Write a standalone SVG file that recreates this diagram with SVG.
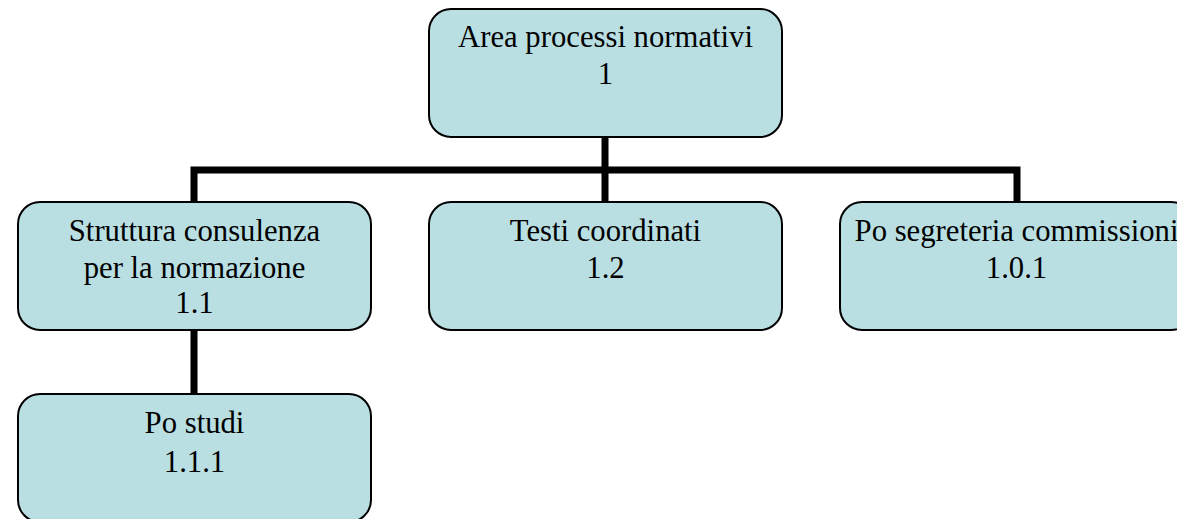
<svg xmlns="http://www.w3.org/2000/svg" width="1177" height="519" viewBox="0 0 1177 519">
<style>
.node rect{fill:#b9dfe3;stroke:#000;stroke-width:2}
.node text{font-family:"Liberation Serif","Times New Roman",serif;font-size:30.7px;fill:#000;text-anchor:middle}
.conn{fill:none;stroke:#000;stroke-width:7}
</style>
<rect width="1177" height="519" fill="#fff"/>
<g id="connectors">
<path class="conn" d="M605,137 V170 M194,170 H1017 M194,166.5 V202 M1017,166.5 V202 M605,170 V202 M194,330 V394"/>
</g>
<g id="n1" class="node">
<rect x="429" y="9" width="353" height="128" rx="22"/>
<text x="605.5" y="47">Area processi normativi</text>
<text x="605.5" y="84">1</text>
</g>
<g id="n11" class="node">
<rect x="18" y="202" width="353" height="128" rx="22"/>
<text x="194.5" y="241">Struttura consulenza</text>
<text x="194.5" y="278">per la normazione</text>
<text x="194.5" y="313">1.1</text>
</g>
<g id="n12" class="node">
<rect x="429" y="202" width="353" height="128" rx="22"/>
<text x="605.5" y="241">Testi coordinati</text>
<text x="605.5" y="278">1.2</text>
</g>
<g id="n101" class="node">
<rect x="840" y="202" width="353" height="128" rx="22"/>
<text x="1016.5" y="241">Po segreteria commissioni</text>
<text x="1016.5" y="278">1.0.1</text>
</g>
<g id="n111" class="node">
<rect x="18" y="394" width="353" height="128" rx="22"/>
<text x="194.5" y="433">Po studi</text>
<text x="194.5" y="472">1.1.1</text>
</g>
</svg>
